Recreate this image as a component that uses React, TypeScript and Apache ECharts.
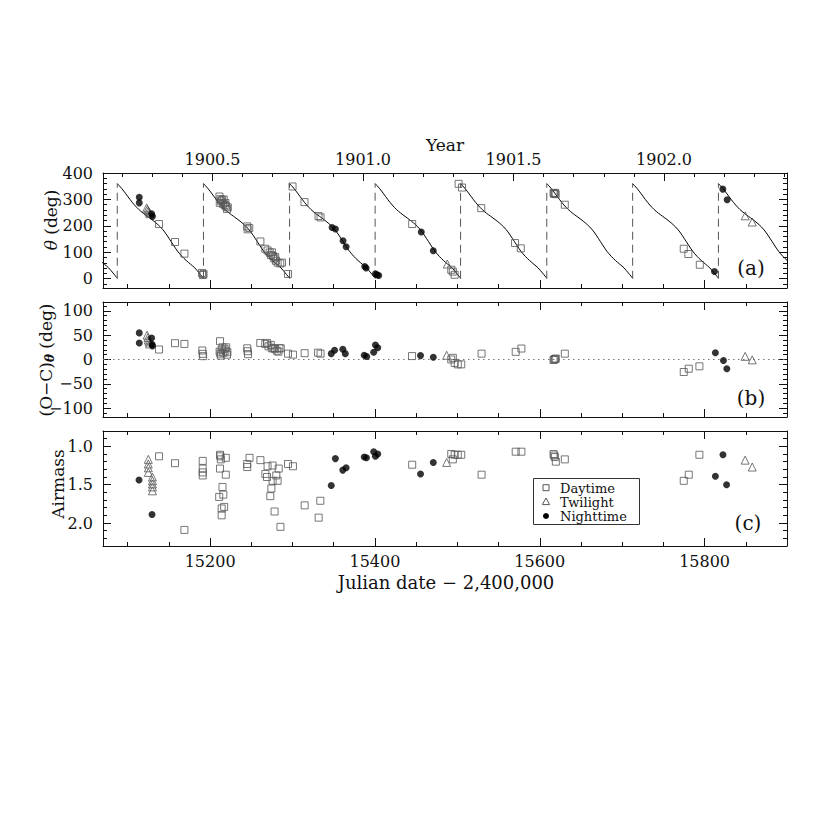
import React, { useEffect, useRef } from 'react';
import * as echarts from 'echarts';

const FONT = '"DejaVu Serif", serif';
const INK = '#111';

// ---- axes ----
const JD_MIN = 15070;
const JD_MAX = 15900;
const JD_B1900 = 15020.31; // JD - 2,400,000 of 1900.0
const YEAR_DAYS = 365.2422;
const jdMajorTicks = [15200, 15400, 15600, 15800];
const yearMajorTicks = [1900.5, 1901.0, 1901.5, 1902.0];
const thetaTicks = [0, 100, 200, 300, 400];
const ocTicks = [-100, -50, 0, 50, 100];
const airmassTicks = [1.0, 1.5, 2.0];

// ---- model curve (one cycle) and wrap dates ----
const wrapDates = [14983.1, 15087.3, 15191.9, 15296.4, 15400.2, 15503.9, 15608.5, 15712.7, 15816.8, 15921.0];
const modelPhase = [0, 0.05, 0.1, 0.15, 0.2, 0.25, 0.3, 0.35, 0.4, 0.45, 0.5, 0.55, 0.6, 0.65, 0.7, 0.75, 0.8, 0.85, 0.9, 0.95, 1.0];
const modelTheta = [360, 342, 321, 299, 279, 262, 248, 236, 224, 211, 196, 177, 153, 128, 104, 85, 69, 55, 41, 22, 2];

// ---- panel (a): position angle ----
const thetaDay = [
  [15138, 207], [15157.4, 139], [15168.8, 95], [15190.2, 22], [15191.2, 14], [15192, 18],
  [15211.3, 311], [15212.5, 301], [15213.3, 293], [15214.5, 298], [15216.5, 300], [15211.7, 287], [15215.7, 283],
  [15217.7, 279], [15218.5, 287], [15219.3, 274], [15220.5, 264], [15221.5, 270],
  [15245, 198], [15245.5, 187], [15247.5, 192], [15261, 141],
  [15266.9, 113.5], [15269.7, 107], [15272.2, 99], [15273.8, 90], [15275, 100], [15276.3, 86], [15277.8, 77],
  [15279, 82], [15279.9, 68], [15281.9, 61], [15285.1, 58], [15287.2, 61], [15294.5, 18],
  [15300, 349], [15314.5, 290], [15331.5, 237], [15334, 232], [15445.2, 207],
  [15492.6, 34], [15494.5, 27], [15496.7, 15], [15501.5, 359], [15505.6, 345],
  [15529, 267], [15570, 135], [15577, 115],
  [15616.7, 324], [15617.5, 321], [15618.5, 325], [15619.3, 320], [15630.4, 280],
  [15774.7, 113.5], [15780.3, 93.5], [15794.2, 53],
];
const thetaTwilight = [
  [15123, 268], [15124, 262], [15125, 257], [15126, 252], [15127, 246],
  [15487.8, 55.6], [15849.3, 238], [15857.8, 214.5],
];
const thetaNight = [
  [15114, 308], [15114, 287], [15129, 246], [15130, 236],
  [15348, 194], [15352, 188], [15361.3, 144], [15365, 121], [15387.6, 46.5], [15389.3, 40.5],
  [15400.6, 19], [15402.5, 15], [15404.6, 12.5], [15456.2, 177], [15470.8, 106],
  [15812, 27.6], [15822.1, 339], [15827.4, 299],
];

// ---- panel (b): O-C residuals ----
const ocDay = [
  [15138, 20.5], [15157.4, 33.5], [15168.8, 32], [15190.5, 18.5], [15191, 11.6], [15191.5, 6.8],
  [15212, 37.5], [15211.5, 16], [15212.5, 12], [15214, 20], [15215, 25], [15216, 14], [15217.5, 22],
  [15218.5, 18], [15219.5, 25], [15220.5, 10], [15221, 15], [15213, 8],
  [15245, 23], [15245.5, 17], [15246, 11],
  [15260.8, 34], [15266.9, 32], [15269, 34], [15270.8, 27], [15273.6, 30], [15274.8, 23], [15276.8, 23],
  [15278.8, 22], [15280.9, 18], [15282.9, 16], [15284.1, 23], [15285.7, 23],
  [15294.5, 12], [15300.5, 10], [15314.7, 13], [15331, 14], [15334, 12], [15445, 7],
  [15492.6, 0], [15494.5, 3.4], [15496.7, -7], [15500.5, -10], [15504.7, -10],
  [15529.4, 12], [15570.8, 15.7], [15577.7, 22.5],
  [15616.7, -1], [15617.5, 0], [15618.5, 1], [15619.5, 2], [15630.4, 12],
  [15774.7, -25.7], [15780.8, -18.9], [15793.7, -14],
];
const ocTwilight = [
  [15123.5, 50], [15124.5, 45], [15125, 40], [15126, 36], [15126.5, 32],
  [15487, 8.7], [15849.2, 6.5], [15857.8, -0.7],
];
const ocNight = [
  [15114, 54.6], [15114, 34], [15129, 44], [15129.5, 31], [15130, 28],
  [15347, 12], [15351, 19], [15361, 21], [15364, 12], [15387, 8.7], [15390, 6],
  [15398.5, 15], [15400.6, 29.6], [15403.4, 24], [15455.3, 8], [15470.8, 4.7],
  [15813.1, 14], [15822.9, -2], [15827, -18.9],
];

// ---- panel (c): airmass ----
const amDay = [
  [15138, 1.13], [15157.4, 1.22], [15168.8, 2.09],
  [15191, 1.19], [15191, 1.29], [15191, 1.34], [15191, 1.38],
  [15212, 1.11], [15212.5, 1.13], [15213, 1.17], [15212, 1.29], [15211, 1.66], [15215, 1.53], [15216, 1.63],
  [15214, 1.81], [15217, 1.79], [15214, 1.9], [15219, 1.15], [15219, 1.37],
  [15245, 1.23], [15245, 1.27], [15247.8, 1.15], [15261, 1.18],
  [15267, 1.36], [15269, 1.4], [15269.7, 1.26], [15273, 1.65], [15274.3, 1.55], [15275.8, 1.25], [15275.8, 1.45],
  [15278.2, 1.85], [15280.3, 1.38], [15281.9, 1.45], [15283.2, 1.29], [15285.3, 2.05],
  [15294.5, 1.23], [15300.5, 1.26], [15314.7, 1.77], [15331.7, 1.93], [15333.7, 1.71], [15445.2, 1.24],
  [15492.6, 1.1], [15494.5, 1.17], [15496.7, 1.11], [15500.5, 1.11], [15504.7, 1.11],
  [15529.4, 1.37], [15570.8, 1.07], [15577.7, 1.07],
  [15616.7, 1.1], [15617.5, 1.12], [15618.3, 1.14], [15619.5, 1.2], [15630.4, 1.17],
  [15774.7, 1.45], [15780.8, 1.37], [15793.7, 1.11],
];
const amTwilight = [
  [15125, 1.17], [15125, 1.23], [15125, 1.28], [15125, 1.34],
  [15130, 1.4], [15130, 1.45], [15130, 1.49], [15130, 1.53], [15130, 1.58],
  [15487, 1.21], [15849.2, 1.18], [15857.8, 1.27],
];
const amNight = [
  [15113.7, 1.44], [15129.5, 1.89], [15347, 1.51], [15352, 1.16], [15361, 1.31], [15365, 1.28],
  [15387, 1.14], [15389.7, 1.15], [15398.5, 1.07], [15400.6, 1.13], [15403.4, 1.1],
  [15455.3, 1.36], [15470.8, 1.21], [15813.1, 1.39], [15822.3, 1.11], [15826.7, 1.5],
];

function steps(start: number, end: number, step: number): number[] {
  const out: number[] = [];
  const n = Math.round((end - start) / step);
  for (let i = 0; i <= n; i++) out.push(Math.round((start + i * step) * 1000) / 1000);
  return out;
}

const jdMinorTicks = steps(15100, 15850, 50);
const yearMinorTicks = steps(1900.2, 1902.4, 0.1);
const thetaMinorTicks = steps(-20, 380, 20);
const ocMinorTicks = steps(-110, 110, 10);
const airmassMinorTicks = steps(0.9, 2.2, 0.1);

const YEAR_MIN = 1900 + (JD_MIN - JD_B1900) / YEAR_DAYS;
const YEAR_MAX = 1900 + (JD_MAX - JD_B1900) / YEAR_DAYS;

type AxOpts = {
  gridIndex: number; position: string; min: number; max: number; ticks: number[]; len: number;
  line?: boolean; labels?: boolean; fmt?: (v: number) => string; inverse?: boolean; margin?: number;
};
function axis(o: AxOpts) {
  return {
    type: 'value', gridIndex: o.gridIndex, position: o.position, min: o.min, max: o.max,
    inverse: !!o.inverse,
    splitLine: { show: false },
    axisLine: { show: !!o.line, onZero: false, lineStyle: { color: INK, width: 1 } },
    axisTick: { show: true, inside: true, length: o.len, customValues: o.ticks, lineStyle: { color: INK, width: 1 } },
    axisLabel: o.labels
      ? { show: true, customValues: o.ticks, formatter: o.fmt, margin: o.margin ?? 8, fontFamily: FONT, fontSize: 16, color: INK }
      : { show: false },
    axisPointer: { show: false },
  };
}

const GRIDS = [
  { left: 103, top: 173, width: 684, height: 115 },
  { left: 103, top: 302, width: 684, height: 115 },
  { left: 103, top: 431, width: 684, height: 115 },
];

function buildOption() {
  const xAxes: any[] = [];
  const yAxes: any[] = [];
  for (let g = 0; g < 3; g++) {
    xAxes.push(axis({ gridIndex: g, position: 'bottom', min: JD_MIN, max: JD_MAX, ticks: jdMajorTicks, len: 8, line: true, labels: g === 2, fmt: (v) => String(v), margin: 7 }));
    xAxes.push(axis({ gridIndex: g, position: 'bottom', min: JD_MIN, max: JD_MAX, ticks: jdMinorTicks, len: 4 }));
    if (g === 0) {
      xAxes.push(axis({ gridIndex: g, position: 'top', min: YEAR_MIN, max: YEAR_MAX, ticks: yearMajorTicks, len: 8, line: true, labels: true, fmt: (v) => v.toFixed(1), margin: 6 }));
      xAxes.push(axis({ gridIndex: g, position: 'top', min: YEAR_MIN, max: YEAR_MAX, ticks: yearMinorTicks, len: 4 }));
    } else {
      xAxes.push(axis({ gridIndex: g, position: 'top', min: JD_MIN, max: JD_MAX, ticks: jdMajorTicks, len: 8, line: true }));
      xAxes.push(axis({ gridIndex: g, position: 'top', min: JD_MIN, max: JD_MAX, ticks: jdMinorTicks, len: 4 }));
    }
  }
  const ySpecs = [
    { min: -35, max: 400, major: thetaTicks, minor: thetaMinorTicks, fmt: (v: number) => String(v), inverse: false },
    { min: -118, max: 118, major: ocTicks, minor: ocMinorTicks, fmt: (v: number) => String(v).replace('-', '\u2212'), inverse: false },
    { min: 0.8, max: 2.3, major: airmassTicks, minor: airmassMinorTicks, fmt: (v: number) => v.toFixed(1), inverse: true },
  ];
  ySpecs.forEach((s, g) => {
    yAxes.push(axis({ gridIndex: g, position: 'left', min: s.min, max: s.max, ticks: s.major, len: 8, line: true, labels: true, fmt: s.fmt, inverse: s.inverse, margin: 10 }));
    yAxes.push(axis({ gridIndex: g, position: 'left', min: s.min, max: s.max, ticks: s.minor, len: 4, inverse: s.inverse }));
    yAxes.push(axis({ gridIndex: g, position: 'right', min: s.min, max: s.max, ticks: s.major, len: 8, line: true, inverse: s.inverse }));
    yAxes.push(axis({ gridIndex: g, position: 'right', min: s.min, max: s.max, ticks: s.minor, len: 4, inverse: s.inverse }));
  });

  const series: any[] = [];
  // model curve segments
  for (let k = 0; k < wrapDates.length - 1; k++) {
    const d0 = wrapDates[k];
    const d1 = wrapDates[k + 1];
    series.push({
      type: 'line', xAxisIndex: 0, yAxisIndex: 0, showSymbol: false, silent: true, smooth: 0.3, clip: true,
      lineStyle: { color: '#000', width: 1 },
      data: modelPhase.map((p, j) => [d0 + p * (d1 - d0), modelTheta[j]]),
      z: 2,
    });
  }
  // wrap (dashed) lines
  wrapDates.filter((d) => d > JD_MIN && d < JD_MAX).forEach((d) => {
    series.push({
      type: 'line', xAxisIndex: 0, yAxisIndex: 0, showSymbol: false, silent: true,
      lineStyle: { color: '#555', width: 1, type: [8, 5] },
      data: [[d, 0], [d, 360]],
      z: 2,
    });
  });
  // zero line (b)
  series.push({
    type: 'line', xAxisIndex: 4, yAxisIndex: 4, showSymbol: false, silent: true,
    lineStyle: { color: '#777', width: 1.2, type: [1.5, 3.5] },
    data: [[JD_MIN, 0], [JD_MAX, 0]],
    z: 1,
  });

  const dayStyle = { symbol: 'rect', symbolSize: 7, itemStyle: { color: 'rgba(255,255,255,0)', borderColor: '#555', borderWidth: 1 } };
  const twiStyle = { symbol: 'triangle', symbolSize: 8, itemStyle: { color: 'rgba(255,255,255,0)', borderColor: '#555', borderWidth: 1 } };
  const nightStyle = { symbol: 'circle', symbolSize: 7, itemStyle: { color: '#000' } };
  const panels = [
    [thetaDay, thetaTwilight, thetaNight],
    [ocDay, ocTwilight, ocNight],
    [amDay, amTwilight, amNight],
  ];
  panels.forEach((sets, g) => {
    const styles = [dayStyle, twiStyle, nightStyle];
    const names = ['Daytime', 'Twilight', 'Nighttime'];
    sets.forEach((data, i) => {
      series.push({
        type: 'scatter', name: names[i], xAxisIndex: 4 * g, yAxisIndex: 4 * g, silent: true,
        ...styles[i], data, z: 3,
      });
    });
  });

  const txt = (x: number, y: number, text: string, size: number, extra: any = {}) => ({
    type: 'text', x, y, silent: true, z: 10,
    style: { text, fontFamily: FONT, fontSize: size, fill: INK, align: 'center', verticalAlign: 'middle', ...extra },
  });

  const graphic: any[] = [
    txt(445, 145, 'Year', 17),
    txt(446, 582, 'Julian date \u2212 2,400,000', 18),
    txt(751, 268, '(a)', 20),
    txt(751, 398, '(b)', 20),
    txt(748, 523, '(c)', 20),
    {
      type: 'text', x: 51, y: 220, rotation: Math.PI / 2, silent: true, z: 10,
      style: {
        text: '{it|\u03b8} (deg)', fontFamily: FONT, fontSize: 17, fill: INK, align: 'center', verticalAlign: 'middle',
        rich: { it: { fontFamily: FONT, fontSize: 17, fontStyle: 'italic', fill: INK } },
      },
    },
    {
      type: 'text', x: 46, y: 360, rotation: Math.PI / 2, silent: true, z: 10,
      style: {
        text: '{n|(O\u2212C)}{s|\u03b8}{n| (deg)}', fontFamily: FONT, fontSize: 17, fill: INK, align: 'center', verticalAlign: 'middle',
        rich: {
          n: { fontFamily: FONT, fontSize: 17, fill: INK },
          s: { fontFamily: FONT, fontSize: 12, fontStyle: 'italic', fontWeight: 'bold', fill: INK, verticalAlign: 'bottom', padding: [8, 0, 0, 0] },
        },
      },
    },
    {
      type: 'text', x: 58, y: 484, rotation: Math.PI / 2, silent: true, z: 10,
      style: { text: 'Airmass', fontFamily: FONT, fontSize: 17, fill: INK, align: 'center', verticalAlign: 'middle' },
    },
    // legend
    { type: 'rect', silent: true, z: 10, shape: { x: 533.5, y: 478.5, width: 106, height: 46 }, style: { fill: '#fff', stroke: '#333', lineWidth: 1 } },
    { type: 'rect', silent: true, z: 11, shape: { x: 543, y: 484.7, width: 6, height: 6 }, style: { fill: 'none', stroke: '#555', lineWidth: 1 } },
    { type: 'polygon', silent: true, z: 11, shape: { points: [[546, 498], [549.6, 504.6], [542.4, 504.6]] }, style: { fill: 'none', stroke: '#555', lineWidth: 1 } },
    { type: 'circle', silent: true, z: 11, shape: { cx: 546, cy: 516, r: 3 }, style: { fill: '#000' } },
    { ...txt(560, 488, 'Daytime', 13, { align: 'left' }), z: 11 },
    { ...txt(560, 502, 'Twilight', 13, { align: 'left' }), z: 11 },
    { ...txt(560, 516, 'Nighttime', 13, { align: 'left' }), z: 11 },
  ];

  return {
    animation: false,
    backgroundColor: '#fff',
    grid: GRIDS,
    xAxis: xAxes,
    yAxis: yAxes,
    series,
    graphic,
  };
}

export default function App() {
  const ref = useRef<HTMLDivElement>(null);
  useEffect(() => {
    if (!ref.current) return;
    const chart = echarts.init(ref.current, undefined, { renderer: 'svg' });
    chart.setOption(buildOption() as any);
    return () => chart.dispose();
  }, []);
  return (
    <div
      ref={ref}
      style={{ position: 'absolute', left: 0, top: 0, width: 830, height: 830, background: '#fff' }}
    />
  );
}
